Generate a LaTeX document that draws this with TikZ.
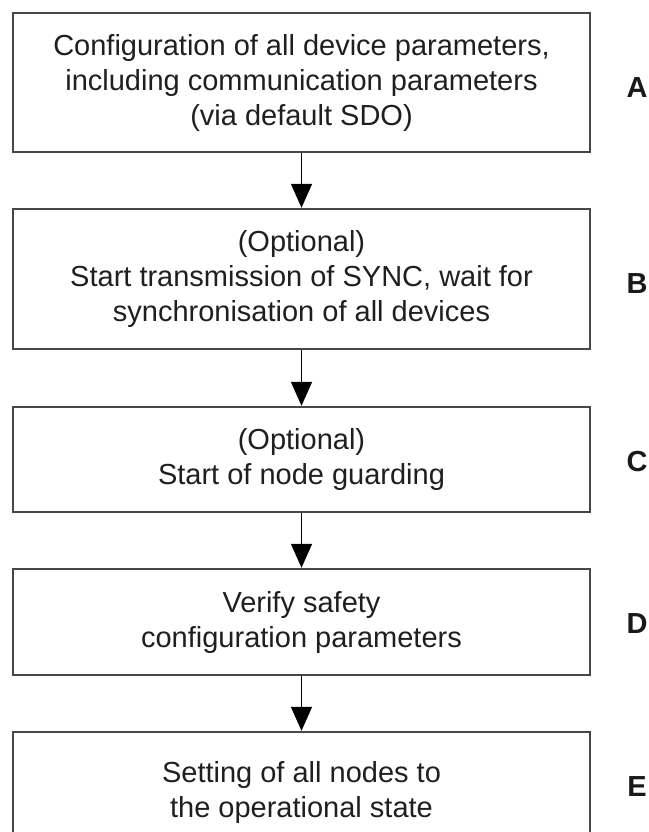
\documentclass[tikz,border=0pt]{standalone}
\usepackage{fontspec}
\setmainfont{Liberation Sans}
\usetikzlibrary{arrows.meta, positioning}

\begin{document}
\begin{tikzpicture}[x=0.5pt, y=-0.5pt,
  stepbox/.style={draw=black!72, line width=1.2pt, minimum width=288.5pt, align=center, inner sep=0pt, text=black!88, font=\fontsize{14.5}{17.5}\selectfont},
  letter/.style={text=black!90, font=\fontsize{14.5}{17.5}\selectfont\bfseries},
  flow/.style={-{Triangle[width=10.5pt,length=12pt]}, line width=0.75pt}]
  \useasboundingbox (0,0) rectangle (649,832);
  \clip (0,0) rectangle (649,832);
  % steps
  \node[stepbox, minimum height=69.5pt] (a) at (301.5,82.5) {Configuration of all device parameters,\\including communication parameters\\(via default SDO)};
  \node[stepbox, minimum height=70pt] (b) at (301.5,279) {(Optional)\\Start transmission of SYNC, wait for\\synchronisation of all devices};
  \node[stepbox, minimum height=52.5pt] (c) at (301.5,459.5) {(Optional)\\Start of node guarding};
  \node[stepbox, minimum height=53pt] (d) at (301.5,622) {Verify safety\\configuration parameters};
  \node[stepbox, minimum height=60pt] (e) at (301.5,792) {Setting of all nodes to\\the operational state};
  % letters
  \node[letter] (la) at (637,88) {A};
  \node[letter] (lb) at (637,284) {B};
  \node[letter] (lc) at (637,462) {C};
  \node[letter] (ld) at (637,624) {D};
  \node[letter] (le) at (637,787) {E};
  % arrows
  \draw[flow] (a) -- (b);
  \draw[flow] (b) -- (c);
  \draw[flow] (c) -- (d);
  \draw[flow] (d) -- (e);
\end{tikzpicture}
\end{document}
